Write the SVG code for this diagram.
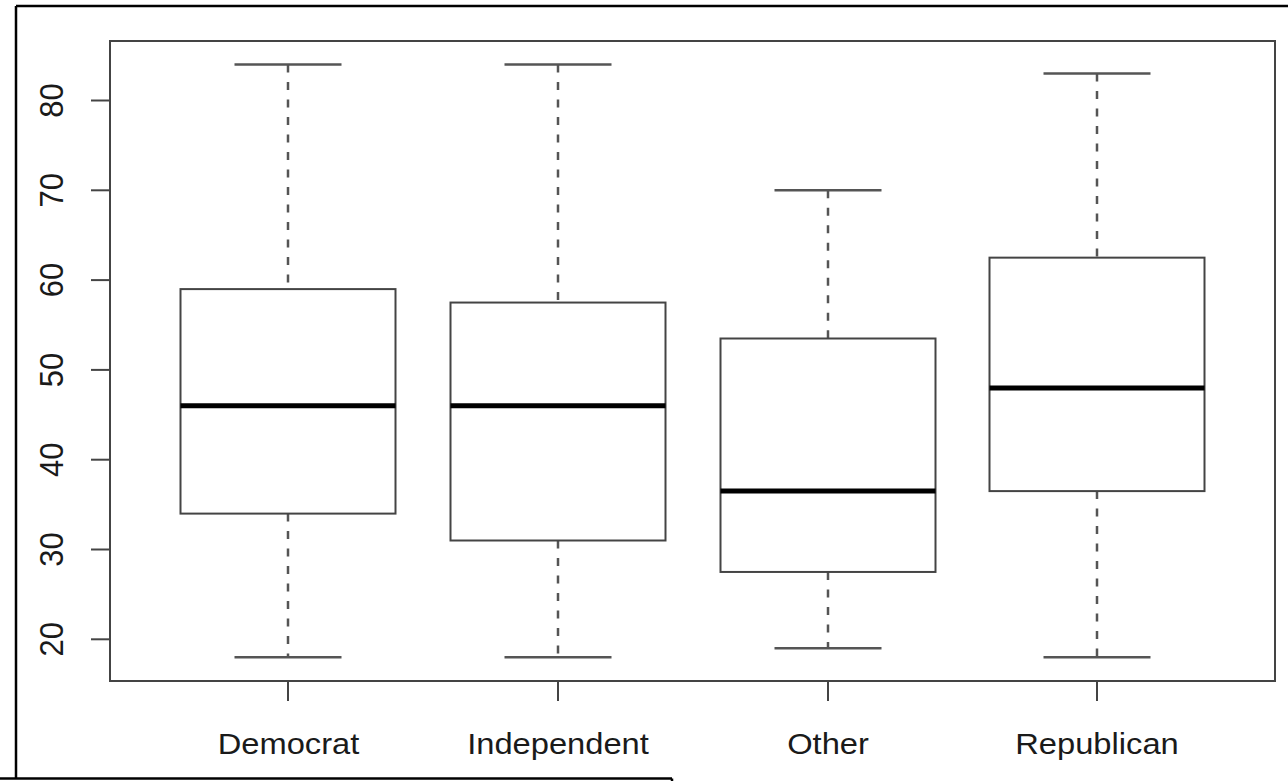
<svg xmlns="http://www.w3.org/2000/svg" width="1288" height="781" viewBox="0 0 1288 781">
<style>
.frame{stroke:#000;stroke-width:2.5;fill:none}
.axis{stroke:#444;stroke-width:2;fill:none}
.box{stroke:#444;stroke-width:2;fill:#fff}
.med{stroke:#000;stroke-width:5}
.whisk{stroke:#555;stroke-width:2.5;stroke-dasharray:8 9.5}
.cap{stroke:#555;stroke-width:2.5}
.lab{font-family:"Liberation Sans",Arial,sans-serif;font-size:30px;fill:#1a1a1a;text-anchor:middle}
.ylab{font-family:"Liberation Sans",Arial,sans-serif;font-size:31px;fill:#1a1a1a;text-anchor:middle}
</style>
<rect width="1288" height="781" fill="#fff"/>
<g id="frame">
<line class="frame" x1="16" y1="6" x2="1288" y2="6"/>
<line class="frame" x1="16" y1="6" x2="16" y2="778"/>
<line class="frame" x1="0" y1="778.5" x2="672" y2="778.5"/>
<line class="frame" x1="672" y1="778.5" x2="672" y2="782"/>
</g>
<g id="axes">
<rect class="axis" x="110" y="41" width="1165" height="640"/>
<g class="axis">
<line x1="91" y1="100.5" x2="110" y2="100.5"/>
<line x1="91" y1="190.3" x2="110" y2="190.3"/>
<line x1="91" y1="280.1" x2="110" y2="280.1"/>
<line x1="91" y1="369.9" x2="110" y2="369.9"/>
<line x1="91" y1="459.7" x2="110" y2="459.7"/>
<line x1="91" y1="549.5" x2="110" y2="549.5"/>
<line x1="91" y1="639.3" x2="110" y2="639.3"/>
<line x1="288" y1="681" x2="288" y2="701"/>
<line x1="558" y1="681" x2="558" y2="701"/>
<line x1="828" y1="681" x2="828" y2="701"/>
<line x1="1097" y1="681" x2="1097" y2="701"/>
</g>
<g class="ylab">
<text transform="translate(63,100.5) scale(1.1,1) rotate(-90)">80</text>
<text transform="translate(63,190.3) scale(1.1,1) rotate(-90)">70</text>
<text transform="translate(63,280.1) scale(1.1,1) rotate(-90)">60</text>
<text transform="translate(63,369.9) scale(1.1,1) rotate(-90)">50</text>
<text transform="translate(63,459.7) scale(1.1,1) rotate(-90)">40</text>
<text transform="translate(63,549.5) scale(1.1,1) rotate(-90)">30</text>
<text transform="translate(63,639.3) scale(1.1,1) rotate(-90)">20</text>
</g>
<g class="lab">
<text transform="translate(288.5,754) scale(1.09,1)">Democrat</text>
<text transform="translate(558,754) scale(1.09,1)">Independent</text>
<text transform="translate(828,754) scale(1.09,1)">Other</text>
<text transform="translate(1097,754) scale(1.09,1)">Republican</text>
</g>
</g>
<g id="connectors">
<line class="whisk" x1="288" y1="64.6" x2="288" y2="289.1"/>
<line class="whisk" x1="288" y1="513.6" x2="288" y2="657.3"/>
<line class="whisk" x1="558" y1="64.6" x2="558" y2="302.55"/>
<line class="whisk" x1="558" y1="540.5" x2="558" y2="657.3"/>
<line class="whisk" x1="828" y1="190.3" x2="828" y2="338.5"/>
<line class="whisk" x1="828" y1="571.95" x2="828" y2="648.3"/>
<line class="whisk" x1="1097" y1="73.6" x2="1097" y2="257.65"/>
<line class="whisk" x1="1097" y1="491.1" x2="1097" y2="657.3"/>
</g>
<g id="democrat">
<line class="cap" x1="234.5" y1="64.6" x2="341.5" y2="64.6"/>
<line class="cap" x1="234.5" y1="657.3" x2="341.5" y2="657.3"/>
<rect class="box" x="180.5" y="289.1" width="215" height="224.5"/>
<line class="med" x1="180.5" y1="405.8" x2="395.5" y2="405.8"/>
</g>
<g id="independent">
<line class="cap" x1="504.5" y1="64.6" x2="611.5" y2="64.6"/>
<line class="cap" x1="504.5" y1="657.3" x2="611.5" y2="657.3"/>
<rect class="box" x="450.5" y="302.55" width="215" height="237.95"/>
<line class="med" x1="450.5" y1="405.8" x2="665.5" y2="405.8"/>
</g>
<g id="other">
<line class="cap" x1="774.5" y1="190.3" x2="881.5" y2="190.3"/>
<line class="cap" x1="774.5" y1="648.3" x2="881.5" y2="648.3"/>
<rect class="box" x="720.5" y="338.5" width="215" height="233.45"/>
<line class="med" x1="720.5" y1="491.1" x2="935.5" y2="491.1"/>
</g>
<g id="republican">
<line class="cap" x1="1043.5" y1="73.6" x2="1150.5" y2="73.6"/>
<line class="cap" x1="1043.5" y1="657.3" x2="1150.5" y2="657.3"/>
<rect class="box" x="989.5" y="257.65" width="215" height="233.45"/>
<line class="med" x1="989.5" y1="387.9" x2="1204.5" y2="387.9"/>
</g>
</svg>
